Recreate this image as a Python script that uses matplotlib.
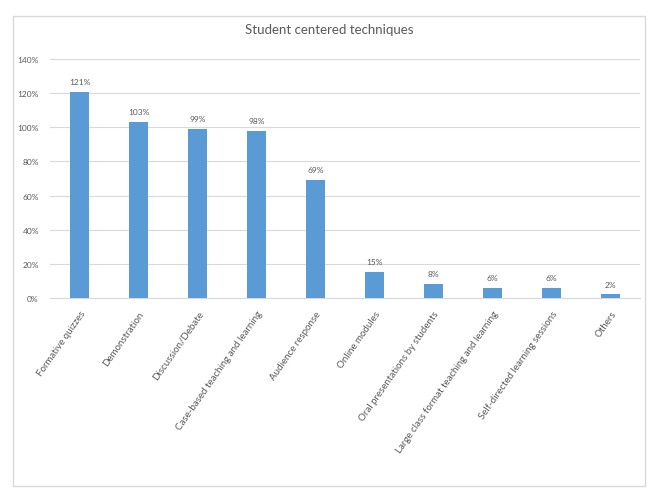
import matplotlib.pyplot as plt
from matplotlib.patches import Rectangle
from matplotlib.ticker import PercentFormatter

# Data
techniques = [
    "Formative quizzes",
    "Demonstration",
    "Discussion/Debate",
    "Case-based teaching and learning",
    "Audience response",
    "Online modules",
    "Oral presentations by students",
    "Large class format teaching and learning",
    "Self-directed learning sessions",
    "Others",
]
percent = [121, 103, 99, 98, 69, 15, 8, 6, 6, 2]
y_ticks = [0, 20, 40, 60, 80, 100, 120, 140]

bar_color = "#5B9BD5"
text_color = "#595959"
grid_color = "#D9D9D9"

plt.rcParams["font.family"] = ["Lato", "DejaVu Sans"]

fig = plt.figure(figsize=(6.49, 4.89), dpi=100)
ax = fig.add_axes([0.077, 0.389, 0.909, 0.488])

# Chart frame
fig.patches.append(Rectangle((13 / 649, 1 - 487 / 489), 632 / 649, 470 / 489,
                             transform=fig.transFigure, fill=False,
                             edgecolor=grid_color, linewidth=1))

x = range(len(techniques))
bars = ax.bar(x, percent, width=0.31, color=bar_color, zorder=3)

for xi, v in zip(x, percent):
    ax.text(xi, v + 4, f"{v}%", ha="center", va="bottom",
            fontsize=6, color=text_color)

ax.set_xlim(-0.5, len(techniques) - 0.5)
ax.set_ylim(0, 140)
ax.set_yticks(y_ticks)
ax.yaxis.set_major_formatter(PercentFormatter(decimals=0))
ax.grid(axis="y", color=grid_color, linewidth=0.8, zorder=0)

ax.set_xticks(list(x))
ax.set_xticklabels(techniques, rotation=55, ha="right", rotation_mode="anchor",
                   fontsize=7, color=text_color)
ax.tick_params(axis="x", length=0, pad=8)
ax.tick_params(axis="y", length=0, labelsize=6, labelcolor=text_color, pad=8)

for side in ["top", "right", "left"]:
    ax.spines[side].set_visible(False)
ax.spines["bottom"].set_color(grid_color)

fig.text(0.508, 1 - 30 / 489, "Student centered techniques", ha="center",
         va="center", fontsize=9.5, color=text_color)

plt.savefig("out.png", dpi=100)
